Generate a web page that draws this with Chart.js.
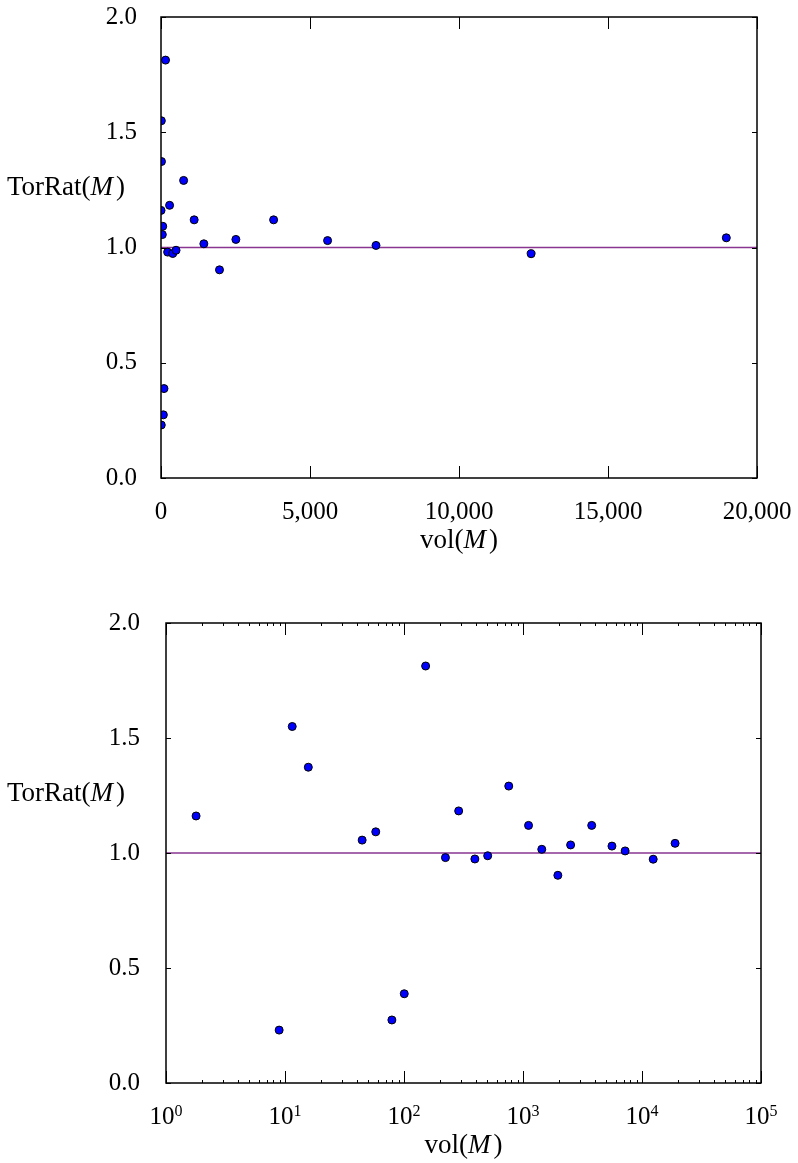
<!DOCTYPE html>
<html>
<head>
<meta charset="utf-8">
<script src="https://cdn.jsdelivr.net/npm/chart.js@4/dist/chart.umd.min.js"></script>
<style>
  html, body { margin: 0; padding: 0; background: #fff; }
  #wrap { position: relative; width: 798px; height: 1163px; }
  canvas { position: absolute; left: 0; }
  #linear-chart { top: 0; }
  #log-chart { top: 581px; }
</style>
</head>
<body>
<div id="wrap">
  <canvas id="linear-chart" width="798" height="581"></canvas>
  <canvas id="log-chart" width="798" height="582"></canvas>
</div>
<script>
// values
const volumes = [
  1.79, 8.93, 11.5, 15.7, 44.5, 57.9, 79.1, 100.5, 152, 223, 288, 394,
  505, 759, 1113, 1438, 1963, 2513, 3779, 5590, 7215, 12420, 18970,
];
const torsionRatios = [
  1.161, 0.23, 1.55, 1.373, 1.056, 1.092, 0.274, 0.388, 1.813, 0.98, 1.183, 0.974,
  0.988, 1.291, 1.12, 1.016, 0.903, 1.035, 1.12, 1.03, 1.009, 0.973, 1.042,
];
const linearXTicks = [0, 5000, 10000, 15000, 20000];
const logXTicks = [1, 10, 100, 1000, 10000, 100000];
const yTicks = [0, 0.5, 1.0, 1.5, 2.0];
const referenceRatio = 1.0;

const FONT = "'Liberation Serif', 'Times New Roman', serif";
const TICK_SIZE = 25;
const TITLE_SIZE = 27;

const points = volumes.map((vol, i) => ({ x: vol, y: torsionRatios[i] }));

function withCommas(value) {
  return String(value).replace(/\B(?=(\d{3})+(?!\d))/g, ",");
}

// draws pieces of text, some italic, one after another
function drawParts(ctx, parts, x, y, align) {
  const widths = parts.map((p) => {
    ctx.font = (p.italic ? "italic " : "") + p.size + "px " + FONT;
    return ctx.measureText(p.text).width + (p.gap || 0);
  });
  const total = widths.reduce((a, b) => a + b, 0);
  let cx = align === "center" ? x - total / 2 : x;
  ctx.textAlign = "left";
  ctx.textBaseline = "alphabetic";
  parts.forEach((p, i) => {
    ctx.font = (p.italic ? "italic " : "") + p.size + "px " + FONT;
    ctx.fillText(p.text, cx, y - (p.raise || 0));
    cx += widths[i];
  });
}

function titleParts(name) {
  return [
    { text: name + "(", size: TITLE_SIZE },
    { text: "M", size: TITLE_SIZE, italic: true, gap: 3 },
    { text: ")", size: TITLE_SIZE },
  ];
}

const frameAndTitles = {
  id: "frameAndTitles",
  afterDatasetsDraw(chart, args, opts) {
    const { ctx, chartArea: a, scales } = chart;
    const xs = scales.x;
    const ys = scales.y;
    ctx.save();
    ctx.strokeStyle = "#000";
    ctx.fillStyle = "#000";
    ctx.lineWidth = 1;

    const line = (x1, y1, x2, y2) => {
      ctx.beginPath();
      ctx.moveTo(x1, y1);
      ctx.lineTo(x2, y2);
      ctx.stroke();
    };
    const xTick = (v, len) => {
      const px = Math.round(xs.getPixelForValue(v)) + 0.5;
      line(px, a.bottom, px, a.bottom - len);
      line(px, a.top, px, a.top + len);
    };

    opts.majorX.forEach((v) => xTick(v, 12));
    opts.minorX.forEach((v) => xTick(v, 3));
    yTicks.forEach((v) => {
      const py = Math.round(ys.getPixelForValue(v)) + 0.5;
      line(a.left, py, a.left + 5, py);
      line(a.right, py, a.right - 5, py);
    });

    ctx.lineWidth = 1.5;
    ctx.strokeRect(a.left, a.top, a.right - a.left, a.bottom - a.top);

    if (opts.powerLabels) {
      opts.majorX.forEach((v) => {
        const px = xs.getPixelForValue(v);
        drawParts(ctx, [
          { text: "10", size: TICK_SIZE },
          { text: String(Math.round(Math.log10(v))), size: 16, raise: 8 },
        ], px, a.bottom + 41, "center");
      });
    }

    drawParts(ctx, titleParts("TorRat"), 7, a.top + 178, "left");
    drawParts(ctx, titleParts("vol"), (a.left + a.right) / 2, a.bottom + 70, "center");
    ctx.restore();
  },
};

function pointDataset() {
  return {
    data: points,
    backgroundColor: "#0000ff",
    borderColor: "#000",
    borderWidth: 1,
    pointRadius: 4,
    clip: 0,
  };
}

function referenceDataset(xMin, xMax) {
  return {
    data: [{ x: xMin, y: referenceRatio }, { x: xMax, y: referenceRatio }],
    showLine: true,
    borderColor: "#8a3592",
    borderWidth: 1.5,
    pointRadius: 0,
    clip: 0,
  };
}

function yScale(width, padding) {
  return {
    min: yTicks[0],
    max: yTicks[yTicks.length - 1],
    afterBuildTicks: (s) => { s.ticks = yTicks.map((v) => ({ value: v })); },
    ticks: {
      callback: (v) => v.toFixed(1),
      font: { family: FONT, size: TICK_SIZE },
      color: "#000",
      padding: padding,
    },
    grid: { display: false },
    border: { display: false },
    afterFit: (s) => {
      s.width = width;
      s.paddingTop = 0;
      s.paddingBottom = 0;
    },
  };
}

function fixXHeight(height) {
  return (s) => {
    s.height = height;
    s.paddingLeft = 0;
    s.paddingRight = 0;
  };
}

const baseOptions = {
  responsive: false,
  animation: false,
  events: [],
};

new Chart(document.getElementById("linear-chart"), {
  type: "scatter",
  data: {
    datasets: [
      pointDataset(),
      referenceDataset(linearXTicks[0], linearXTicks[linearXTicks.length - 1]),
    ],
  },
  options: {
    ...baseOptions,
    layout: { padding: { top: 17, right: 41, left: 0, bottom: 0 } },
    plugins: {
      legend: { display: false },
      tooltip: { enabled: false },
      frameAndTitles: { majorX: linearXTicks, minorX: [], powerLabels: false },
    },
    scales: {
      x: {
        type: "linear",
        min: linearXTicks[0],
        max: linearXTicks[linearXTicks.length - 1],
        afterBuildTicks: (s) => { s.ticks = linearXTicks.map((v) => ({ value: v })); },
        ticks: {
          callback: (v) => withCommas(v),
          font: { family: FONT, size: TICK_SIZE },
          color: "#000",
          padding: 11,
          maxRotation: 0,
          autoSkip: false,
        },
        grid: { display: false },
        border: { display: false },
        afterFit: fixXHeight(103),
      },
      y: yScale(161, 16),
    },
  },
  plugins: [frameAndTitles],
});

const minorLogTicks = [];
logXTicks.slice(0, -1).forEach((decade) => {
  for (let m = 2; m <= 9; m++) minorLogTicks.push(m * decade);
});

new Chart(document.getElementById("log-chart"), {
  type: "scatter",
  data: {
    datasets: [
      pointDataset(),
      referenceDataset(logXTicks[0], logXTicks[logXTicks.length - 1]),
    ],
  },
  options: {
    ...baseOptions,
    layout: { padding: { top: 42, right: 37, left: 0, bottom: 0 } },
    plugins: {
      legend: { display: false },
      tooltip: { enabled: false },
      frameAndTitles: { majorX: logXTicks, minorX: minorLogTicks, powerLabels: true },
    },
    scales: {
      x: {
        type: "logarithmic",
        min: logXTicks[0],
        max: logXTicks[logXTicks.length - 1],
        ticks: { display: false },
        grid: { display: false },
        border: { display: false },
        afterFit: fixXHeight(80),
      },
      y: yScale(166, 18),
    },
  },
  plugins: [frameAndTitles],
});
</script>
</body>
</html>
